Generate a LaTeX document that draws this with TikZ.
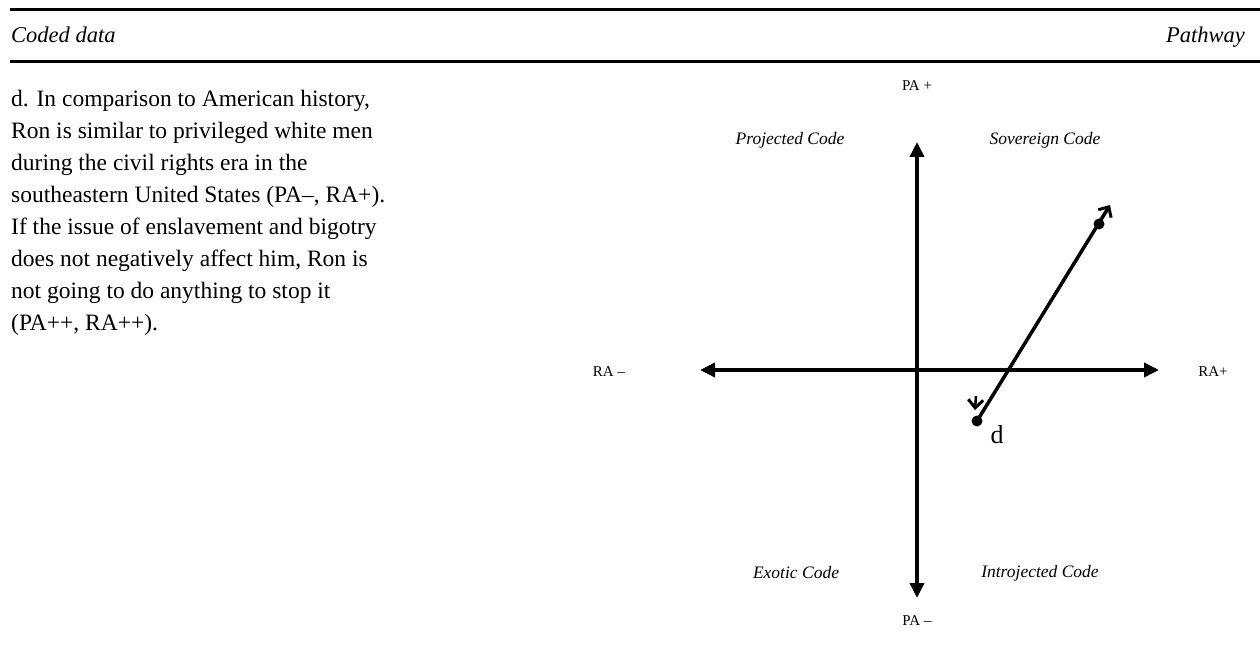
\documentclass[tikz,border=0pt]{standalone}
\usepackage{fontspec}
\setmainfont{Liberation Serif}
\usetikzlibrary{arrows.meta}

\tikzset{
  rule/.style={line width=3pt},
  axis/.style={line width=3.5pt, {Triangle[length=15pt,width=14pt]}-{Triangle[length=15pt,width=14pt]}},
  headtext/.style={font=\fontsize{22.5}{26}\selectfont\itshape, inner sep=0pt},
  axislabel/.style={font=\fontsize{15}{17}\selectfont, inner sep=0pt},
  quadlabel/.style={font=\fontsize{17.5}{20}\selectfont\itshape, inner sep=0pt},
  barb/.style={-{Straight Barb[length=8pt,width=15pt,line width=3pt]}},
  pathline/.style={line width=3.5pt, barb},
  dot/.style={circle, fill=black, inner sep=0pt, minimum size=11pt},
}

\begin{document}
\begin{tikzpicture}[x=1pt,y=-1pt]
\useasboundingbox (0,0) rectangle (1260,660);

% table rules
\draw[rule] (10,9.5) -- (1260,9.5);
\draw[rule] (10,61.5) -- (1260,61.5);

% column headings
\node[headtext, anchor=base west] (hcoded) at (11,43) {Coded data};
\node[headtext, anchor=base east] (hpath) at (1245,43) {Pathway};

% coded data paragraph
\node[anchor=north west, inner sep=0pt, align=left,
      font=\fontsize{23.5}{32}\selectfont] (para) at (11,90) {%
d. In comparison to American history,\\
Ron is similar to privileged white men\\
during the civil rights era in the\\
southeastern United States (PA–, RA+).\\
If the issue of enslavement and bigotry\\
does not negatively affect him, Ron is\\
not going to do anything to stop it\\
(PA++, RA++).};

% axis end points
\coordinate (left) at (700,370);
\coordinate (right) at (1159,370);
\coordinate (top) at (917,142);
\coordinate (bottom) at (917,598);

\draw[axis] (left) -- (right);
\draw[axis] (bottom) -- (top);

% axis labels
\node[axislabel] (pap) at (917,86) {PA +};
\node[axislabel] (pam) at (917,621) {PA –};
\node[axislabel] (ram) at (609,372) {RA –};
\node[axislabel] (rap) at (1213,372) {RA+};

% quadrant labels
\node[quadlabel] (qproj) at (790,140) {Projected Code};
\node[quadlabel] (qsov) at (1045,140) {Sovereign Code};
\node[quadlabel] (qexo) at (796,573) {Exotic Code};
\node[quadlabel] (qintro) at (1040,573) {Introjected Code};

% pathway d
\node[dot] (dstart) at (977,421) {};
\node[dot] (dend) at (1099,224) {};
\coordinate (tiptop) at (1110,205);
\coordinate (stem) at (976,396);
\coordinate (tipbottom) at (975,410);
\draw[pathline] (dstart.center) -- (tiptop);
\draw[line width=2.5pt, barb] (stem) -- (tipbottom);
\node[font=\fontsize{26}{30}\selectfont, inner sep=0pt] (dlabel) at (997,435) {d};

\end{tikzpicture}
\end{document}
